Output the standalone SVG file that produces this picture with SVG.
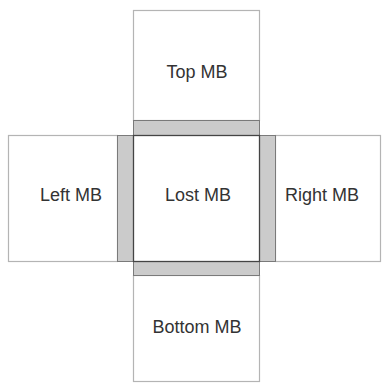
<svg xmlns="http://www.w3.org/2000/svg" width="383" height="383" viewBox="0 0 383 383">
  <style>
    .box { fill: #ffffff; stroke: #b4b4b4; stroke-width: 1.2; }
    .center { fill: #ffffff; stroke: #444444; stroke-width: 1.3; }
    .band { fill: #cbcbcb; stroke: #7a7a7a; stroke-width: 1; }
    .label { font-family: "Liberation Sans", Arial, sans-serif; font-size: 18px; fill: #333333; text-anchor: middle; }
  </style>
  <rect width="383" height="383" fill="#ffffff"/>

  <!-- neighbouring macroblocks -->
  <g id="top-mb">
    <rect class="box" x="133.5" y="10.5" width="126" height="110"/>
    <text class="label" x="197" y="78">Top MB</text>
  </g>
  <g id="left-mb">
    <rect class="box" x="8.5" y="135.5" width="109" height="126"/>
    <text class="label" x="71" y="201">Left MB</text>
  </g>
  <g id="right-mb">
    <rect class="box" x="275.5" y="135.5" width="105" height="126"/>
    <text class="label" x="322" y="201">Right MB</text>
  </g>
  <g id="bottom-mb">
    <rect class="box" x="133.5" y="275.5" width="126" height="106"/>
    <text class="label" x="197" y="333">Bottom MB</text>
  </g>

  <!-- boundary pixel bands around the lost block -->
  <g id="boundary-bands">
    <rect class="band" x="133.5" y="120.5" width="126" height="15"/>
    <rect class="band" x="133.5" y="261.5" width="126" height="14"/>
    <rect class="band" x="117.5" y="135.5" width="16" height="126"/>
    <rect class="band" x="259.5" y="135.5" width="16" height="126"/>
  </g>

  <g id="lost-mb">
    <rect class="center" x="133.5" y="135.5" width="126" height="126"/>
    <text class="label" x="198" y="201">Lost MB</text>
  </g>

  <g id="connectors"></g>
</svg>
